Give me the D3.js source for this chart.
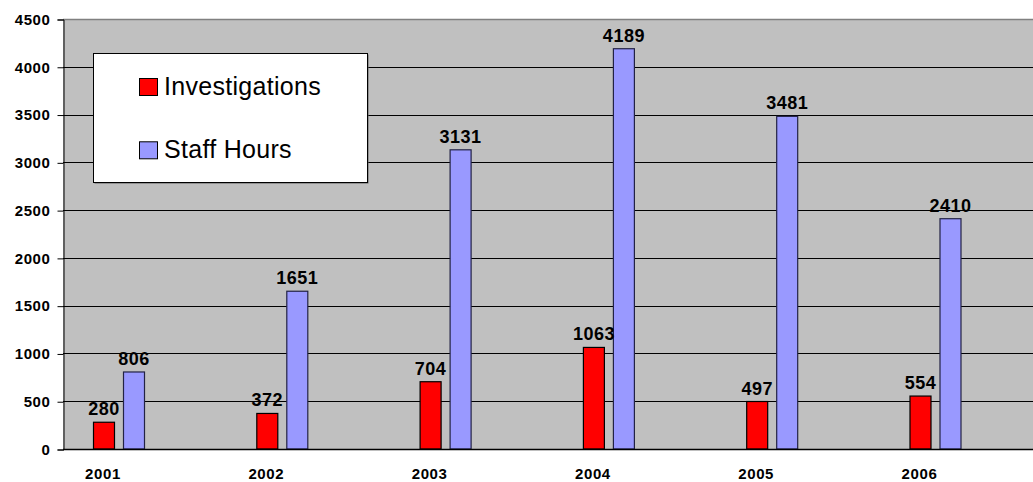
<!DOCTYPE html>
<html>
<head>
<meta charset="utf-8">
<script src="https://cdn.jsdelivr.net/npm/d3@7"></script>
<style>
  html, body { margin: 0; padding: 0; background: #ffffff; }
  svg { display: block; font-family: "Liberation Sans", Arial, sans-serif; }
</style>
</head>
<body>
<svg id="chart" width="1033" height="482"></svg>
<script>
// Yearly figures
const years = ["2001", "2002", "2003", "2004", "2005", "2006"];
const investigations = [280, 372, 704, 1063, 497, 554];
const staffHours = [806, 1651, 3131, 4189, 3481, 2410];
const seriesNames = ["Investigations", "Staff Hours"];
const seriesColors = ["#ff0000", "#9999ff"];
const seriesStroke = ["#000000", "#222244"];
const yTicks = [0, 500, 1000, 1500, 2000, 2500, 3000, 3500, 4000, 4500];

const svg = d3.select("#chart");
const plot = { left: 63, right: 1033, top: 19, bottom: 449 };

const y = d3.scaleLinear().domain([0, 4500]).range([plot.bottom, plot.top]);
const x = d3.scalePoint().domain(years).range([104, 920.5]);
const sub = d3.scaleBand().domain(seriesNames).range([-11, 41]).paddingInner(8 / 30).paddingOuter(0);

// plot background
svg.append("rect")
  .attr("x", plot.left).attr("y", plot.top)
  .attr("width", plot.right - plot.left).attr("height", plot.bottom - plot.top)
  .attr("fill", "#c0c0c0");
svg.append("line")
  .attr("x1", plot.left).attr("x2", plot.right)
  .attr("y1", plot.top + 0.5).attr("y2", plot.top + 0.5)
  .attr("stroke", "#808080").attr("stroke-width", 1.5);

// horizontal gridlines
svg.append("g").selectAll("line")
  .data(yTicks.filter(d => d > 0 && d < 4500))
  .join("line")
  .attr("x1", plot.left).attr("x2", plot.right)
  .attr("y1", d => Math.round(y(d)) + 0.5).attr("y2", d => Math.round(y(d)) + 0.5)
  .attr("stroke", "#000").attr("stroke-width", 1);

// value axis
const yAxis = svg.append("g")
  .attr("transform", `translate(${plot.left + 0.5},0.5)`)
  .call(d3.axisLeft(y).tickValues(yTicks).tickSize(6).tickPadding(7).tickFormat(d3.format("d")));
yAxis.select(".domain").attr("stroke", "#000");
yAxis.selectAll(".tick line").attr("stroke", "#000");
yAxis.selectAll(".tick text")
  .attr("fill", "#000")
  .style("font-size", "15px").style("font-weight", "bold")
  .style("font-family", "'Liberation Sans', Arial, sans-serif")
  .style("letter-spacing", "0.6px");

// bars
const groups = svg.append("g").selectAll("g")
  .data(years.map((yr, i) => ({ yr, vals: [investigations[i], staffHours[i]] })))
  .join("g")
  .attr("transform", d => `translate(${x(d.yr)},0)`);

groups.selectAll("rect")
  .data(d => d.vals.map((v, j) => ({ v, j })))
  .join("rect")
  .attr("x", d => sub(seriesNames[d.j]) + 0.5)
  .attr("y", d => y(d.v))
  .attr("width", sub.bandwidth() - 1)
  .attr("height", d => plot.bottom - y(d.v))
  .attr("fill", d => seriesColors[d.j])
  .attr("stroke", d => seriesStroke[d.j])
  .attr("stroke-width", 1.2);

groups.selectAll("text")
  .data(d => d.vals.map((v, j) => ({ v, j })))
  .join("text")
  .attr("x", d => sub(seriesNames[d.j]) + sub.bandwidth() / 2)
  .attr("y", d => y(d.v) - 7)
  .attr("text-anchor", "middle")
  .style("font-size", "18px").style("font-weight", "bold")
  .style("letter-spacing", "0.5px")
  .attr("fill", "#000")
  .text(d => d.v);

// category axis
svg.append("line")
  .attr("x1", plot.left).attr("x2", plot.right)
  .attr("y1", plot.bottom + 0.5).attr("y2", plot.bottom + 0.5)
  .attr("stroke", "#000").attr("stroke-width", 1.5);
svg.append("g").selectAll("text")
  .data(years)
  .join("text")
  .attr("x", d => x(d) - 1)
  .attr("y", 479)
  .attr("text-anchor", "middle")
  .style("font-size", "15px").style("font-weight", "bold")
  .style("letter-spacing", "0.6px")
  .attr("fill", "#000")
  .text(d => d);

// legend
const legend = svg.append("g").attr("transform", "translate(93,53)");
legend.append("rect")
  .attr("x", 1.5).attr("y", 1.5).attr("width", 274).attr("height", 129)
  .attr("fill", "#606060");
legend.append("rect")
  .attr("x", 0.5).attr("y", 0.5).attr("width", 274).attr("height", 129)
  .attr("fill", "#ffffff").attr("stroke", "#000").attr("stroke-width", 1);
const items = legend.selectAll("g.item")
  .data(seriesNames)
  .join("g")
  .attr("class", "item")
  .attr("transform", (d, i) => `translate(46,${25 + i * 63.3})`);
items.append("rect")
  .attr("x", 0.5).attr("y", 0.5).attr("width", 18).attr("height", 17)
  .attr("fill", (d, i) => seriesColors[i])
  .attr("stroke", "#000").attr("stroke-width", 1);
items.append("text")
  .attr("x", 25).attr("y", 17)
  .style("font-size", "25px")
  .style("letter-spacing", "0.3px")
  .attr("fill", "#000")
  .text(d => d);
</script>
</body>
</html>
